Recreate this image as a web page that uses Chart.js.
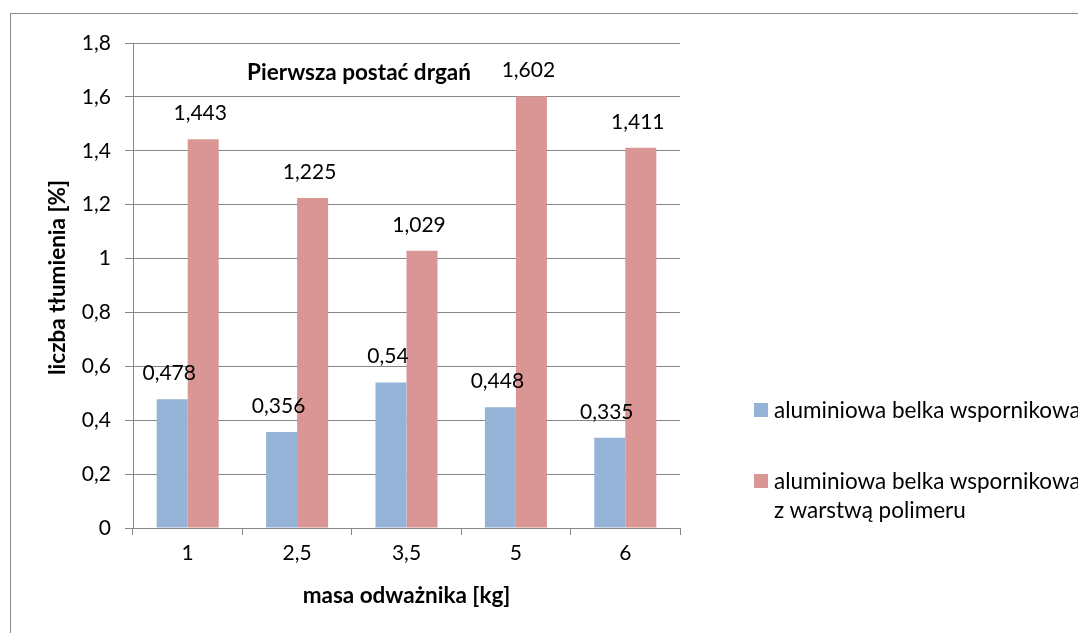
<!DOCTYPE html>
<html>
<head>
<meta charset="utf-8">
<script src="https://cdn.jsdelivr.net/npm/chart.js@4"></script>
<style>
  html, body { margin: 0; padding: 0; background: #fff; overflow: hidden; }
  #wrap { position: relative; width: 1078px; height: 633px; }
  #frame { position: absolute; left: 10px; top: 13px; width: 1080px; height: 640px; border: 1.5px solid #8a8a8a; box-sizing: border-box; }
  canvas { position: absolute; left: 0; top: 0; }
  .leg { position: absolute; left: 754px; font: 22.5px Lato, sans-serif; color: #000; white-space: nowrap; line-height: 29px; }
  .leg .sw { position: absolute; left: 0; top: 8px; width: 14px; height: 14px; }
  .leg .tx { position: absolute; left: 20px; top: 0; }
</style>
</head>
<body>
<div id="wrap">
  <div id="frame"></div>
  <canvas id="chart" width="1078" height="633"></canvas>
  <div id="legend"></div>
</div>
<script>
// data
const categories = ['1', '2,5', '3,5', '5', '6'];
const aluminium = [0.478, 0.356, 0.54, 0.448, 0.335];
const polymer = [1.443, 1.225, 1.029, 1.602, 1.411];
const seriesNames = [
  ['aluminiowa belka wspornikowa'],
  ['aluminiowa belka wspornikowa', 'z warstwą polimeru']
];
const yTicks = [0, 0.2, 0.4, 0.6, 0.8, 1, 1.2, 1.4, 1.6, 1.8];

const FONT = 'Lato, sans-serif';
const GRID = '#868686';
const fmt = v => String(Math.round(v * 1000) / 1000).replace('.', ',');

// titles + value labels drawn onto the canvas
const extras = {
  id: 'extras',
  afterDatasetsDraw(chart) {
    const ctx = chart.ctx;
    const area = chart.chartArea;
    ctx.save();
    ctx.fillStyle = '#000';
    ctx.textAlign = 'center';
    ctx.textBaseline = 'middle';

    // value labels above every bar
    ctx.font = '21px ' + FONT;
    chart.data.datasets.forEach((ds, i) => {
      chart.getDatasetMeta(i).data.forEach((bar, j) => {
        ctx.fillText(fmt(ds.data[j]), bar.x - 3, bar.y - 26);
      });
    });

    ctx.font = 'bold 22.5px ' + FONT;
    ctx.fillText('Pierwsza postać drgań', area.left + 226, area.top + 30);
    ctx.fillText('masa odważnika [kg]', (area.left + area.right) / 2, 596);

    ctx.translate(58, (area.top + area.bottom) / 2 - 8);
    ctx.rotate(-Math.PI / 2);
    ctx.fillText('liczba tłumienia [%]', 0, 0);
    ctx.restore();
  }
};

const ctx = document.getElementById('chart').getContext('2d');
const chart = new Chart(ctx, {
  type: 'bar',
  data: {
    labels: categories,
    datasets: [
      { label: seriesNames[0].join(' '), data: aluminium, backgroundColor: '#95b3d7' },
      { label: seriesNames[1].join(' '), data: polymer, backgroundColor: '#d99694' }
    ]
  },
  options: {
    responsive: false,
    animation: false,
    layout: { padding: { left: 0, top: 43, right: 398, bottom: 0 } },
    datasets: { bar: { categoryPercentage: 0.567, barPercentage: 1 } },
    plugins: { legend: { display: false }, tooltip: { enabled: false } },
    scales: {
      x: {
        afterFit(scale) { scale.height = 105; },
        grid: { drawOnChartArea: false, color: GRID, tickLength: 7, offset: true },
        border: { color: GRID },
        ticks: { color: '#000', font: { family: FONT, size: 21 }, padding: 6 }
      },
      y: {
        min: 0,
        max: 1.8,
        afterFit(scale) { scale.width = 133; },
        afterBuildTicks(scale) { scale.ticks = yTicks.map(v => ({ value: v })); },
        grid: { color: GRID, tickLength: 8 },
        border: { color: GRID },
        ticks: {
          color: '#000',
          font: { family: FONT, size: 21 },
          padding: 14,
          callback: v => fmt(v)
        }
      }
    }
  },
  plugins: [extras]
});

// legend on the right, built from the series names
const legend = document.getElementById('legend');
const colors = chart.data.datasets.map(d => d.backgroundColor);
const tops = [395, 466];
seriesNames.forEach((lines, i) => {
  const item = document.createElement('div');
  item.className = 'leg';
  item.style.top = tops[i] + 'px';
  item.innerHTML = '<div class="sw" style="background:' + colors[i] + '"></div>' +
    '<div class="tx">' + lines.join('<br>') + '</div>';
  legend.appendChild(item);
});
</script>
</body>
</html>
